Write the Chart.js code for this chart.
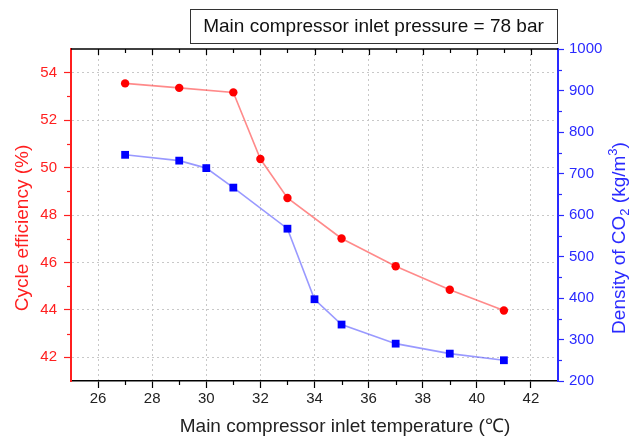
<!DOCTYPE html>
<html>
<head>
<meta charset="utf-8">
<script src="https://cdn.jsdelivr.net/npm/chart.js@4.4.1/dist/chart.umd.min.js"></script>
<style>
  html, body { margin: 0; padding: 0; background: #ffffff; }
  #wrap { width: 629px; height: 439px; }
</style>
</head>
<body>
<div id="wrap"><canvas id="c" width="629" height="439"></canvas></div>
<script>
// ---- data ----
const effTemps = [27, 29, 31, 32, 33, 35, 37, 39, 41];
const efficiency = [53.55, 53.36, 53.17, 50.36, 48.72, 47.01, 45.84, 44.85, 43.97];
const denTemps = [27, 29, 30, 31, 33, 34, 35, 37, 39, 41];
const density = [745, 731, 713, 666, 567, 397, 336, 290, 266, 250];
const xTicks = [26, 28, 30, 32, 34, 36, 38, 40, 42];
const leftTicks = [42, 44, 46, 48, 50, 52, 54];
const rightTicks = [200, 300, 400, 500, 600, 700, 800, 900, 1000];
const xTitle = 'Main compressor inlet temperature (\u2103)';
const leftTitle = 'Cycle efficiency (%)';
const boxText = 'Main compressor inlet pressure = 78 bar';

const FONT = '"Liberation Sans", Arial, sans-serif';
const RED = '#ff1f1f';
const BLUE = '#2a2aff';

const decor = {
  id: 'decor',
  afterDraw(chart) {
    const ctx = chart.ctx;
    const a = chart.chartArea;
    const sx = chart.scales.x, sl = chart.scales.yL, sr = chart.scales.yR;
    ctx.save();
    // top frame
    ctx.strokeStyle = '#000';
    ctx.lineWidth = 1.5;
    ctx.beginPath();
    ctx.moveTo(a.left, a.top); ctx.lineTo(a.right, a.top);
    ctx.stroke();
    ctx.lineWidth = 1.2;
    for (let v = 26; v <= 42; v++) {
      const px = Math.round(sx.getPixelForValue(v)) + 0.5;
      const major = v % 2 === 0;
      ctx.strokeStyle = '#000';
      ctx.beginPath();
      ctx.moveTo(px, a.top); ctx.lineTo(px, a.top + (major ? 6 : 4));
      ctx.stroke();
      if (!major) {
        ctx.beginPath();
        ctx.moveTo(px, a.bottom); ctx.lineTo(px, a.bottom + 4);
        ctx.stroke();
      }
    }
    ctx.strokeStyle = RED;
    for (let v = 43; v <= 53; v += 2) {
      const py = Math.round(sl.getPixelForValue(v)) + 0.5;
      ctx.beginPath(); ctx.moveTo(a.left, py); ctx.lineTo(a.left - 4, py); ctx.stroke();
    }
    ctx.strokeStyle = BLUE;
    for (let v = 250; v <= 950; v += 100) {
      const py = Math.round(sr.getPixelForValue(v)) + 0.5;
      ctx.beginPath(); ctx.moveTo(a.right, py); ctx.lineTo(a.right + 4, py); ctx.stroke();
    }
    // x title
    ctx.fillStyle = '#222';
    ctx.font = '19px ' + FONT;
    ctx.textAlign = 'center';
    ctx.textBaseline = 'middle';
    ctx.fillText(xTitle, 345, 427);
    // left title
    ctx.save();
    ctx.translate(23, 228);
    ctx.rotate(-Math.PI / 2);
    ctx.fillStyle = RED;
    ctx.fillText(leftTitle, 0, 0);
    ctx.restore();
    // right title with sub/superscripts
    ctx.save();
    ctx.translate(620, 238);
    ctx.rotate(-Math.PI / 2);
    ctx.fillStyle = BLUE;
    ctx.textAlign = 'left';
    const big = '19px ' + FONT, small = '13px ' + FONT;
    const parts = [['Density of CO', big, 0], ['2', small, 5], [' (kg/m', big, 0], ['3', small, -7], [')', big, 0]];
    let total = 0;
    parts.forEach(p => { ctx.font = p[1]; total += ctx.measureText(p[0]).width; });
    let x = -total / 2;
    parts.forEach(p => { ctx.font = p[1]; ctx.fillText(p[0], x, p[2]); x += ctx.measureText(p[0]).width; });
    ctx.restore();
    // box
    ctx.strokeStyle = '#333';
    ctx.lineWidth = 1;
    ctx.strokeRect(190.5, 9.5, 367, 34);
    ctx.fillStyle = '#111';
    ctx.font = '19px ' + FONT;
    ctx.textAlign = 'center';
    ctx.fillText(boxText, 373.5, 27);
    ctx.restore();
  }
};

new Chart(document.getElementById('c'), {
  type: 'scatter',
  data: {
    datasets: [
      {
        label: 'Cycle efficiency',
        data: effTemps.map((t, i) => ({ x: t, y: efficiency[i] })),
        yAxisID: 'yL',
        showLine: true,
        borderColor: 'rgba(255,60,60,0.6)',
        borderWidth: 1.6,
        pointStyle: 'circle',
        pointRadius: 4.2,
        pointBackgroundColor: '#ff0000',
        pointBorderColor: '#ff0000',
        pointBorderWidth: 0,
        tension: 0
      },
      {
        label: 'Density of CO2',
        data: denTemps.map((t, i) => ({ x: t, y: density[i] })),
        yAxisID: 'yR',
        showLine: true,
        borderColor: 'rgba(70,70,255,0.55)',
        borderWidth: 1.6,
        pointStyle: 'rect',
        pointRadius: 5.5,
        pointBackgroundColor: '#0000ff',
        pointBorderColor: '#0000ff',
        pointBorderWidth: 0,
        tension: 0
      }
    ]
  },
  options: {
    responsive: false,
    animation: false,
    devicePixelRatio: 1,
    layout: { padding: { top: 49, left: 0, right: 0, bottom: 0 } },
    plugins: { legend: { display: false }, tooltip: { enabled: false }, title: { display: false } },
    scales: {
      x: {
        type: 'linear',
        min: 25, max: 43,
        afterBuildTicks: s => { s.ticks = xTicks.map(v => ({ value: v })); },
        afterFit: s => { s.height = 58; },
        grid: { color: '#c8c8c8', lineWidth: 1, tickLength: 7, tickColor: '#000', tickWidth: 1.2 },
        border: { display: true, color: '#000', width: 1.5, dash: [2, 3] },
        ticks: { color: '#222', font: { size: 15, family: FONT }, padding: 2, maxRotation: 0, callback: v => String(v) }
      },
      yL: {
        type: 'linear',
        position: 'left',
        min: 41, max: 55,
        afterBuildTicks: s => { s.ticks = leftTicks.map(v => ({ value: v })); },
        afterFit: s => { s.width = 71; },
        grid: { color: '#c8c8c8', lineWidth: 1, tickLength: 7, tickColor: RED, tickWidth: 1.2 },
        border: { display: true, color: RED, width: 2, dash: [2, 3] },
        ticks: { color: RED, font: { size: 15, family: FONT }, padding: 7, callback: v => String(v) }
      },
      yR: {
        type: 'linear',
        position: 'right',
        min: 200, max: 1000,
        afterBuildTicks: s => { s.ticks = rightTicks.map(v => ({ value: v })); },
        afterFit: s => { s.width = 71; },
        grid: { drawOnChartArea: false, tickLength: 6, tickColor: BLUE, tickWidth: 1.2 },
        border: { display: true, color: BLUE, width: 2 },
        ticks: { color: BLUE, font: { size: 15, family: FONT }, padding: 5, callback: v => String(v) }
      }
    }
  },
  plugins: [decor]
});
</script>
</body>
</html>
